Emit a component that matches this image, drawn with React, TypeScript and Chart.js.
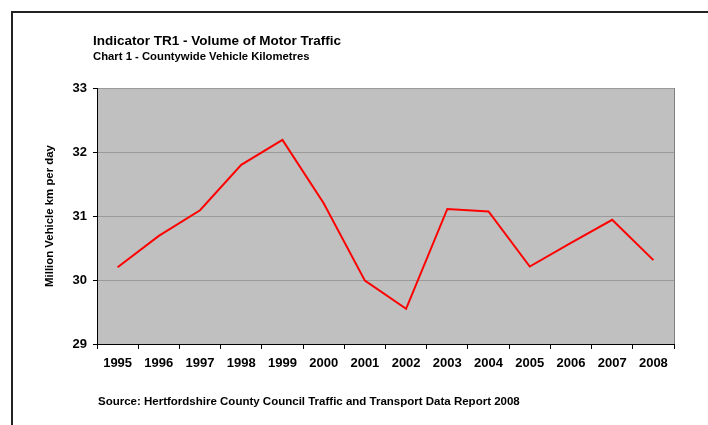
import React, { useEffect, useRef } from "react";
import { Chart, registerables } from "chart.js";

Chart.register(...registerables);

const years = ["1995", "1996", "1997", "1998", "1999", "2000", "2001", "2002", "2003", "2004", "2005", "2006", "2007", "2008"];
const vehicleKm = [30.2, 30.69, 31.09, 31.8, 32.19, 31.2, 29.99, 29.55, 31.11, 31.07, 30.21, 30.58, 30.94, 30.31];
const yMin = 29;
const yMax = 33;

const titleText = "Indicator TR1 - Volume of Motor Traffic";
const subtitleText = "Chart 1 - Countywide Vehicle Kilometres";
const yAxisTitle = "Million Vehicle km per day";
const sourceText = "Source: Hertfordshire County Council Traffic and Transport Data Report 2008";

const FONT = "'Liberation Sans', Arial, Helvetica, sans-serif";

const plotBgPlugin = {
  id: "plotBg",
  beforeDraw(chart: any) {
    const { ctx, chartArea } = chart;
    ctx.save();
    ctx.fillStyle = "#c0c0c0";
    ctx.fillRect(chartArea.left, chartArea.top, chartArea.right - chartArea.left, chartArea.bottom - chartArea.top);
    ctx.restore();
  },
  afterDatasetsDraw(chart: any) {
    const { ctx, chartArea } = chart;
    ctx.save();
    ctx.strokeStyle = "#808080";
    ctx.lineWidth = 1;
    ctx.beginPath();
    ctx.moveTo(Math.round(chartArea.right) + 0.5, chartArea.top);
    ctx.lineTo(Math.round(chartArea.right) + 0.5, chartArea.bottom);
    ctx.stroke();
    ctx.restore();
  },
};

export default function App() {
  const canvasRef = useRef<HTMLCanvasElement | null>(null);

  useEffect(() => {
    if (!canvasRef.current) return;
    const chart = new Chart(canvasRef.current, {
      type: "line",
      data: {
        labels: years,
        datasets: [
          {
            data: vehicleKm,
            borderColor: "#ff0000",
            borderWidth: 2,
            pointRadius: 0,
            tension: 0,
            fill: false,
          },
        ],
      },
      options: {
        animation: false,
        responsive: false,
        maintainAspectRatio: false,
        layout: { padding: { top: 88, right: 34, left: 0, bottom: 0 } },
        plugins: {
          legend: { display: false },
          tooltip: { enabled: false },
          title: { display: false },
        },
        scales: {
          x: {
            type: "category",
            offset: true,
            grid: {
              offset: true,
              drawOnChartArea: false,
              drawTicks: true,
              tickLength: 5,
              tickColor: "#000",
              color: "#000",
            },
            border: { color: "#000", width: 1 },
            ticks: {
              color: "#000",
              font: { family: FONT, size: 13, weight: "bold" },
              padding: 7,
              maxRotation: 0,
              autoSkip: false,
            },
            afterFit: (s: any) => {
              s.height = 81;
            },
          },
          y: {
            min: yMin,
            max: yMax,
            grid: {
              color: "#9a9a9a",
              tickColor: "#000",
              tickLength: 4,
            },
            border: { color: "#000", width: 1 },
            ticks: {
              stepSize: 1,
              color: "#000",
              font: { family: FONT, size: 13, weight: "bold" },
              padding: 6,
            },
            title: {
              display: true,
              text: yAxisTitle,
              color: "#000",
              font: { family: FONT, size: 11.4, weight: "bold" },
              padding: { top: 43.2, bottom: 0 },
            },
            afterFit: (s: any) => {
              s.width = 97;
            },
          },
        },
      } as any,
      plugins: [plotBgPlugin],
    });
    return () => chart.destroy();
  }, []);

  const textBase: React.CSSProperties = {
    position: "absolute",
    fontFamily: FONT,
    fontWeight: "bold",
    color: "#000",
    lineHeight: 1,
    whiteSpace: "nowrap",
    margin: 0,
  };

  return (
    <div style={{ position: "fixed", left: 0, top: 0, width: 708, height: 425, background: "#fff", overflow: "hidden" }}>
      <canvas ref={canvasRef} width={708} height={425} style={{ position: "absolute", left: 0, top: 0, width: 708, height: 425 }} />
      <div style={{ position: "absolute", left: 11, top: 11, width: 720, height: 430, borderTop: "2px solid #222", borderLeft: "2px solid #222", boxSizing: "border-box" }} />
      <div style={{ ...textBase, left: 93, top: 33.9, fontSize: 13.5 }}>{titleText}</div>
      <div style={{ ...textBase, left: 93, top: 51, fontSize: 11.3 }}>{subtitleText}</div>
      <div style={{ ...textBase, left: 98, top: 395.6, fontSize: 11.5 }}>{sourceText}</div>
    </div>
  );
}
